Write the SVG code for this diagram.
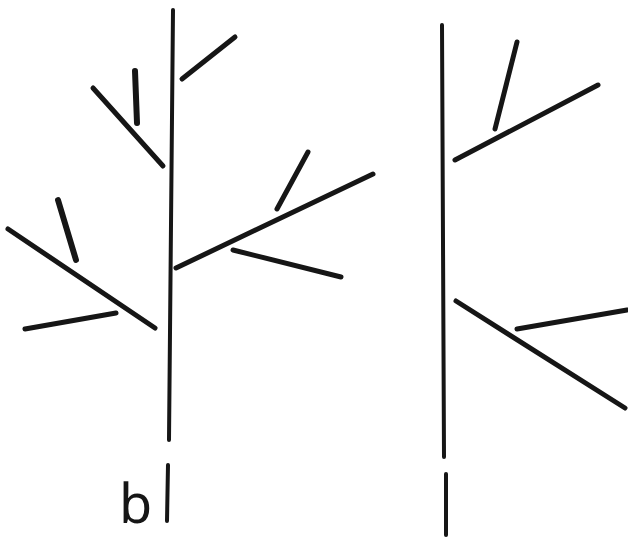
<svg xmlns="http://www.w3.org/2000/svg" width="628" height="543" viewBox="0 0 628 543">
<style>
line{stroke:#161616;stroke-linecap:round;fill:none}
.t{stroke-width:4}
.b{stroke-width:5}
.w{stroke-width:6}
text{font-family:"Noto Sans","Liberation Sans",sans-serif;fill:#161616}
</style>
<rect width="628" height="543" fill="#ffffff"/>
<g id="tree-b">
<line class="t" x1="173" y1="10" x2="169" y2="440"/>
<line class="t" x1="168" y1="465" x2="167" y2="521"/>
<line class="b" x1="182" y1="79" x2="235" y2="37"/>
<line class="b" x1="93" y1="88" x2="163" y2="166"/>
<line class="w" x1="135" y1="71" x2="137" y2="123"/>
<line class="b" x1="176" y1="268" x2="373" y2="174"/>
<line class="b" x1="277" y1="209" x2="308" y2="152"/>
<line class="b" x1="233" y1="250" x2="341" y2="277"/>
<line class="b" x1="8" y1="229" x2="155" y2="328"/>
<line class="w" x1="58" y1="200" x2="76" y2="260"/>
<line class="b" x1="25" y1="329" x2="116" y2="313"/>
<text x="119" y="523" font-size="54">b</text>
</g>
<g id="tree-2">
<line class="t" x1="442" y1="25" x2="444" y2="457"/>
<line class="t" x1="446" y1="474" x2="446" y2="535"/>
<line class="b" x1="455" y1="160" x2="598" y2="85"/>
<line class="b" x1="495" y1="129" x2="517" y2="42"/>
<line class="b" x1="456" y1="301" x2="625" y2="408"/>
<line class="b" x1="517" y1="329" x2="627" y2="310"/>
</g>
</svg>
